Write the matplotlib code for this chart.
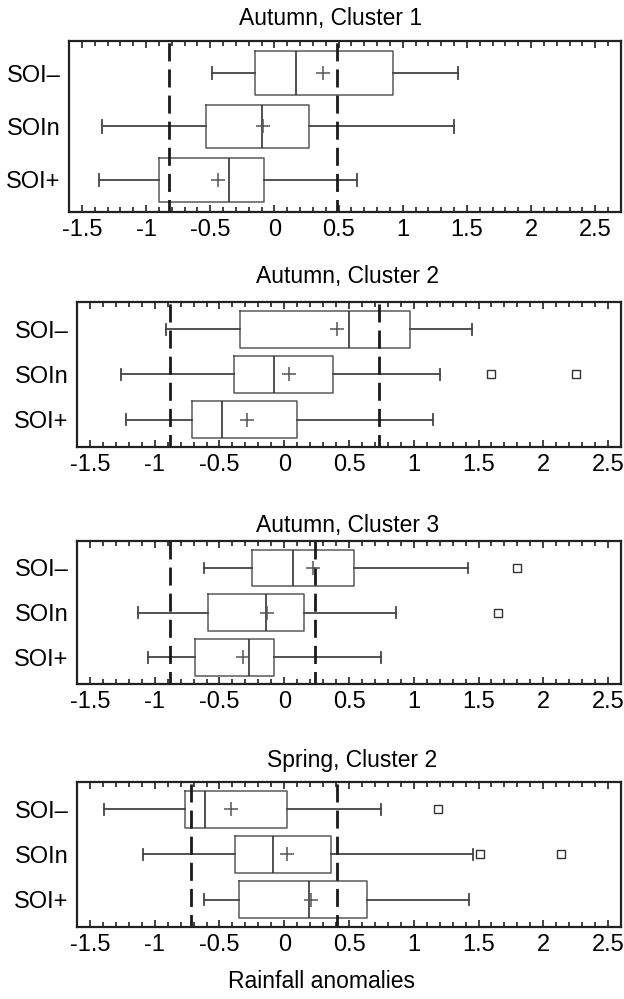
import matplotlib
matplotlib.use("Agg")
import matplotlib.pyplot as plt
from matplotlib.ticker import MultipleLocator, FuncFormatter

plt.rcParams['font.family'] = ['Liberation Sans', 'DejaVu Sans']
plt.rcParams['axes.unicode_minus'] = False

# panel titles and row labels
titles = ["Autumn, Cluster 1", "Autumn, Cluster 2", "Autumn, Cluster 3", "Spring, Cluster 2"]
groups = ["SOI\u2013", "SOIn", "SOI+"]

# box statistics, one row per panel, columns = SOI-, SOIn, SOI+
whislo = [[-0.49, -1.34, -1.37],
          [-0.91, -1.26, -1.22],
          [-0.62, -1.13, -1.05],
          [-1.39, -1.09, -0.62]]
q1 = [[-0.15, -0.53, -0.90],
      [-0.34, -0.39, -0.71],
      [-0.25, -0.59, -0.69],
      [-0.77, -0.38, -0.35]]
med = [[0.17, -0.10, -0.35],
       [0.50, -0.08, -0.48],
       [0.07, -0.14, -0.27],
       [-0.61, -0.09, 0.19]]
means = [[0.38, -0.09, -0.44],
         [0.41, 0.04, -0.29],
         [0.22, -0.13, -0.32],
         [-0.41, 0.02, 0.21]]
q3 = [[0.92, 0.27, -0.08],
      [0.97, 0.38, 0.10],
      [0.54, 0.15, -0.08],
      [0.02, 0.36, 0.64]]
whishi = [[1.43, 1.40, 0.64],
          [1.45, 1.20, 1.15],
          [1.42, 0.86, 0.75],
          [0.75, 1.46, 1.43]]
fliers = [[[], [], []],
          [[], [1.60, 2.25], []],
          [[1.80], [1.65], []],
          [[1.19], [1.51, 2.14], []]]
# dashed reference lines per panel
thresholds = [(-0.82, 0.49), (-0.88, 0.73), (-0.88, 0.24), (-0.72, 0.41)]
xmax = [2.7, 2.6, 2.6, 2.6]

# axes rectangles [left, bottom, width, height] in figure fractions
rects = [[0.1106, 0.7878, 0.8846, 0.1712],
         [0.1234, 0.5526, 0.8718, 0.1451],
         [0.1234, 0.3153, 0.8718, 0.1431],
         [0.1234, 0.0721, 0.8718, 0.1451]]
title_pos = [(0.530, 0.981), (0.557, 0.723), (0.557, 0.474), (0.565, 0.239)]

fig = plt.figure(figsize=(6.24, 9.99), dpi=100)

box_c = '#5a5a5a'
for p in range(4):
    ax = fig.add_axes(rects[p])
    stats = []
    for g in range(3):
        stats.append(dict(whislo=whislo[p][g], q1=q1[p][g], med=med[p][g],
                          mean=means[p][g], q3=q3[p][g], whishi=whishi[p][g],
                          fliers=fliers[p][g], label=groups[g]))
    ax.bxp(stats, positions=[1, 2, 3], vert=False, widths=0.82,
           capwidths=0.24, showmeans=True, patch_artist=False,
           boxprops=dict(color=box_c, linewidth=1.1),
           medianprops=dict(color='#333333', linewidth=1.2),
           whiskerprops=dict(color='#444444', linewidth=1.3),
           capprops=dict(color='#444444', linewidth=1.3),
           meanprops=dict(marker='+', markersize=10, markeredgecolor='#555555',
                          markeredgewidth=1.1),
           flierprops=dict(marker='s', markersize=6, markerfacecolor='none',
                           markeredgecolor='#333333', markeredgewidth=1.0))
    for t in thresholds[p]:
        ax.axvline(t, color='#1a1a1a', linewidth=2, linestyle=(2, (6.5, 2.9)))

    ax.set_xlim(-1.6, xmax[p])
    ax.set_ylim(3.6, 0.4)
    ax.set_yticks([1, 2, 3])
    ax.set_yticklabels(groups, fontsize=17)
    ax.tick_params(axis='y', length=0, pad=6)
    ax.xaxis.set_major_locator(MultipleLocator(0.5))
    ax.xaxis.set_minor_locator(MultipleLocator(0.1))
    ax.xaxis.set_major_formatter(FuncFormatter(lambda v, pos: '%g' % round(v, 2)))
    ax.tick_params(axis='x', which='both', direction='in', top=True, bottom=True,
                   width=1.2, labelsize=17, pad=5, color='#222222')
    ax.tick_params(axis='x', which='major', length=5)
    ax.tick_params(axis='x', which='minor', length=3.5)
    for s in ax.spines.values():
        s.set_linewidth(1.6)
        s.set_color('#222222')
    fig.text(title_pos[p][0], title_pos[p][1], titles[p], ha='center', va='center',
             fontsize=16.5)

fig.text(0.516, 0.018, "Rainfall anomalies", ha='center', va='center', fontsize=16.5)

fig.savefig("out.png", dpi=100)
